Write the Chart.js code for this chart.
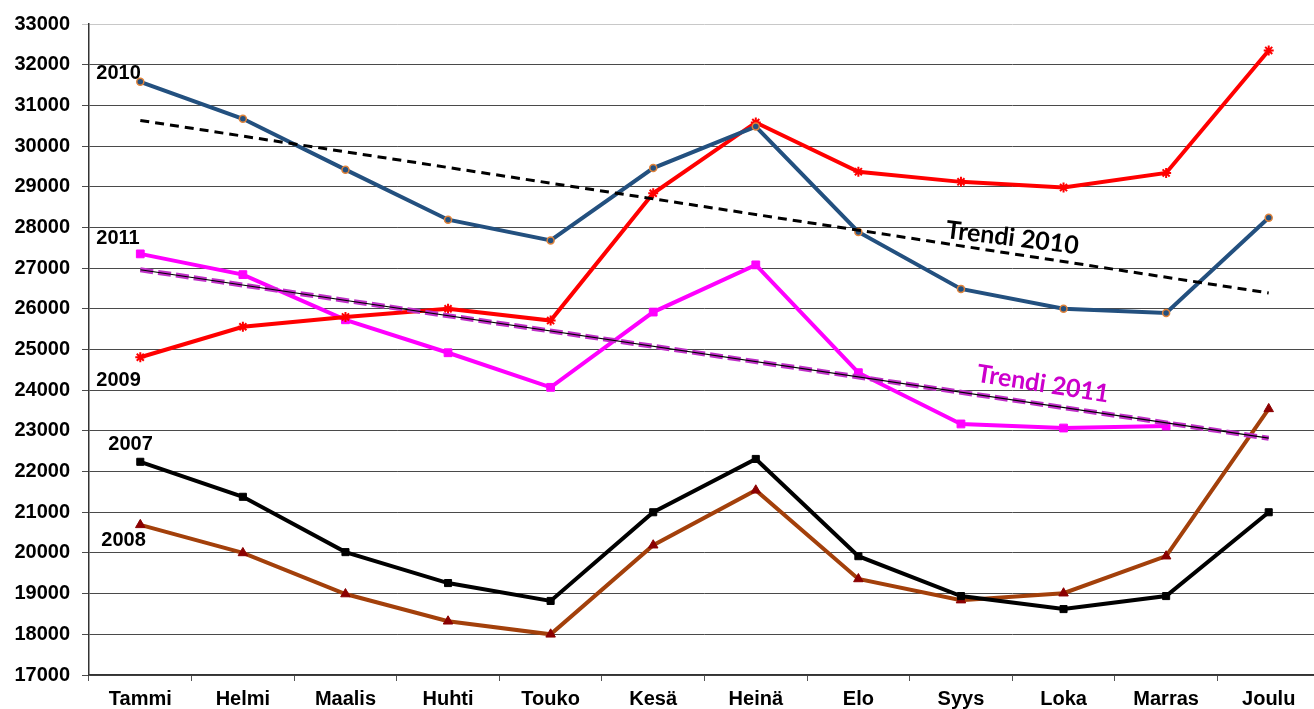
<!DOCTYPE html>
<html>
<head>
<meta charset="utf-8">
<script src="https://cdn.jsdelivr.net/npm/chart.js@4/dist/chart.umd.min.js"></script>
<style>
html,body{margin:0;padding:0;background:#fff;overflow:hidden;width:1314px;height:709px;}
#c{display:block;}
</style>
</head>
<body>
<canvas id="c" width="1327" height="709"></canvas>
<script>
const months = ['Tammi','Helmi','Maalis','Huhti','Touko','Kesä','Heinä','Elo','Syys','Loka','Marras','Joulu'];
const yTicks = {min: 17000, max: 33000, step: 1000};

const s2007 = [22240, 21380, 20020, 19260, 18820, 21000, 22310, 19920, 18940, 18620, 18940, 21000];
const s2008 = [20690, 20000, 18990, 18320, 18000, 20190, 21540, 19360, 18840, 19010, 19920, 23540];
const s2009 = [24810, 25560, 25800, 26000, 25710, 28840, 30580, 29370, 29120, 28980, 29340, 32350];
const s2010 = [31580, 30670, 29420, 28190, 27680, 29460, 30480, 27890, 26490, 26000, 25900, 28240];
const s2011 = [27350, 26840, 25730, 24920, 24070, 25920, 27080, 24430, 23170, 23070, 23120, null];
const trend2010 = [30630, null, null, null, null, null, null, null, null, null, null, 26390];
const trend2011 = [26960, null, null, null, null, null, null, null, null, null, null, 22820];

// text annotations: [text, series, dx, dy]
const yearLabels = [
  ['2010', s2010, -44, -8],
  ['2011', s2011, -44, -15],
  ['2009', s2009, -44, 23],
  ['2007', s2007, -32, -17],
  ['2008', s2008, -39, 16]
];
const trendLabels = [
  ['Trendi 2010', 8.5, 27740, 7, '#000000'],
  ['Trendi 2011', 8.8, 24150, 9, '#CC00CC']
];

const annot = {
  id: 'annot',
  afterDatasetsDraw(chart) {
    const ctx = chart.ctx, xs = chart.scales.x, ys = chart.scales.y;
    ctx.save();
    ctx.font = 'bold 20px "Liberation Sans", Arial, sans-serif';
    ctx.fillStyle = '#000';
    ctx.textAlign = 'left';
    ctx.textBaseline = 'middle';
    yearLabels.forEach(([t, s, dx, dy]) => {
      ctx.fillText(t, xs.getPixelForValue(0) + dx, ys.getPixelForValue(s[0]) + dy);
    });
    trendLabels.forEach(([t, xi, yv, ang, col]) => {
      ctx.save();
      ctx.translate(xs.getPixelForValue(xi), ys.getPixelForValue(yv));
      ctx.rotate(ang * Math.PI / 180);
      ctx.font = 'bold 25px Lato, "Open Sans", sans-serif';
      ctx.fillStyle = col;
      ctx.textAlign = 'center';
      ctx.fillText(t, 0, 0);
      ctx.restore();
    });
    ctx.restore();
  }
};

const baseLine = {tension: 0, fill: false, borderWidth: 4};

new Chart(document.getElementById('c'), {
  type: 'line',
  data: {
    labels: months,
    datasets: [
      {label: 'Trendi 2010', data: trend2010, spanGaps: true, borderColor: '#000', borderWidth: 3, borderDash: [9, 6], pointRadius: 0, tension: 0},
      {label: 'Trendi 2011 line', data: trend2011, spanGaps: true, borderColor: '#000', borderWidth: 1.2, pointRadius: 0, tension: 0},
      {label: 'Trendi 2011', data: trend2011, spanGaps: true, borderColor: '#C030C8', borderWidth: 5, borderDash: [13, 5], pointRadius: 0, tension: 0},
      Object.assign({label: '2010', data: s2010, borderColor: '#23507F', pointStyle: 'circle', pointRadius: 3.5, pointBackgroundColor: '#23507F', pointBorderColor: '#E0833A', pointBorderWidth: 1.5}, baseLine),
      Object.assign({label: '2009', data: s2009, borderColor: '#FF0000', pointStyle: 'star', pointRadius: 5, pointBackgroundColor: '#FF0000', pointBorderColor: '#FF0000', pointBorderWidth: 2}, baseLine),
      Object.assign({label: '2011', data: s2011, borderColor: '#FF00FF', pointStyle: 'rect', pointRadius: 5.5, pointBackgroundColor: '#FF00FF', pointBorderColor: '#FF00FF', pointBorderWidth: 1}, baseLine),
      Object.assign({label: '2007', data: s2007, borderColor: '#000000', pointStyle: 'rect', pointRadius: 5, pointBackgroundColor: '#000', pointBorderColor: '#000', pointBorderWidth: 1}, baseLine),
      Object.assign({label: '2008', data: s2008, borderColor: '#A3400B', pointStyle: 'triangle', pointRadius: 5.5, pointBackgroundColor: '#8B0000', pointBorderColor: '#8B0000', pointBorderWidth: 1}, baseLine)
    ]
  },
  options: {
    responsive: false,
    animation: false,
    devicePixelRatio: 1,
    layout: {padding: {top: 14, left: 12, right: 0, bottom: 0}},
    plugins: {legend: {display: false}, tooltip: {enabled: false}},
    scales: {
      x: {
        type: 'category',
        offset: true,
        grid: {offset: true, drawOnChartArea: false, drawTicks: true, tickLength: 6, color: '#555'},
        border: {display: true, color: '#333', width: 1.5},
        ticks: {color: '#000', font: {family: '"Liberation Sans", Arial, sans-serif', size: 20, weight: 'bold'}, padding: 6, maxRotation: 0, autoSkip: false},
        afterFit(s) { s.height = 34; }
      },
      y: {
        min: yTicks.min, max: yTicks.max,
        ticks: {stepSize: yTicks.step, color: '#000', font: {family: '"Liberation Sans", Arial, sans-serif', size: 20, weight: 'bold'}, padding: 12, callback: (v) => String(v)},
        grid: {color: (c) => (c.tick && c.tick.value === yTicks.max) ? '#c8c8c8' : '#4a4a4a', lineWidth: 1, tickLength: 7},
        border: {display: true, color: '#333', width: 1.5},
        afterFit(s) { s.width = 77; }
      }
    }
  },
  plugins: [annot]
});
</script>
</body>
</html>
